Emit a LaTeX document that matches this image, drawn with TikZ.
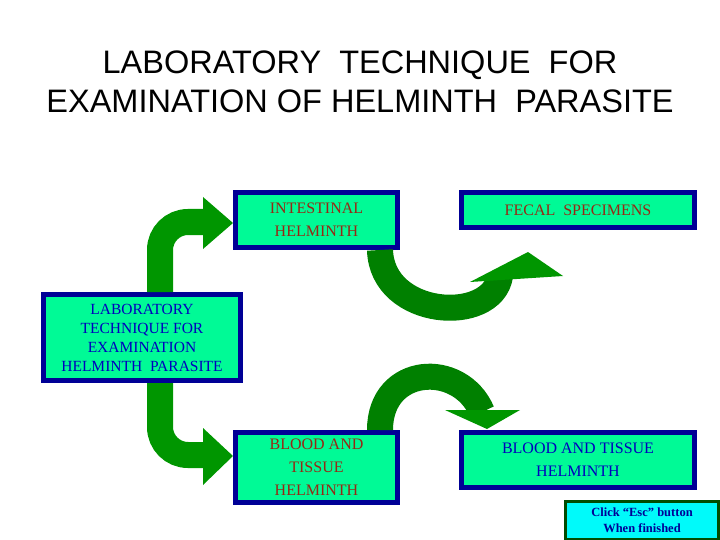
\documentclass[tikz,border=0pt]{standalone}
\usepackage{fontspec}
\setmainfont{Liberation Serif}
\newfontfamily\titlefont{Liberation Sans}
\usetikzlibrary{positioning}
\definecolor{boxfill}{RGB}{0,250,150}
\definecolor{boxline}{RGB}{0,0,150}
\definecolor{arrowgreen}{RGB}{0,150,0}
\definecolor{redtext}{RGB}{150,40,20}
\definecolor{bluetext}{RGB}{0,0,190}
\definecolor{escfill}{RGB}{0,250,250}
\tikzset{
  stage/.style={draw=boxline,line width=5pt,fill=boxfill,inner sep=0pt,align=center,font=\fontsize{16}{23}\selectfont},
  bigarrow/.style={draw=arrowgreen,line width=26pt},
  arrowhead/.style={fill=arrowgreen}
}
\begin{document}
\begin{tikzpicture}[x=1pt,y=-1pt]
    \useasboundingbox (0,0) rectangle (720,540);
    \node[font=\titlefont\fontsize{32.5}{39}\selectfont,align=center] (title) at (360,82) {LABORATORY\ \ TECHNIQUE\ \ FOR\\EXAMINATION OF HELMINTH\ \ PARASITE};

    \node[stage,text=redtext,minimum width=162pt,minimum height=55pt] (intest) at (316.5,220) {INTESTINAL\\HELMINTH};
    \node[stage,text=redtext,minimum width=233pt,minimum height=35pt] (fecal) at (578,210) {FECAL\ \ SPECIMENS};
    \node[stage,text=bluetext,minimum width=197pt,minimum height=86pt,font=\fontsize{15.5}{19}\selectfont] (lab) at (142,337.5) {LABORATORY\\TECHNIQUE FOR\\EXAMINATION\\HELMINTH\ \ PARASITE};
    \node[stage,text=redtext,minimum width=162pt,minimum height=70pt] (blood) at (316.5,467.5) {BLOOD AND\\TISSUE\\HELMINTH};
    \node[stage,text=bluetext,minimum width=233pt,minimum height=55pt] (bthelm) at (578,460) {BLOOD AND TISSUE\\HELMINTH};
    \node[draw=black!70!green,line width=3pt,fill=escfill,text=boxline,inner sep=0pt,minimum width=153pt,minimum height=38pt,align=center,font=\bfseries\fontsize{12.5}{16}\selectfont] (esc) at (642,520) {Click ``Esc'' button\\When finished};

    % curved arrows
    \coordinate (a1) at ([xshift=119pt]lab.north west);
    \draw[bigarrow,rounded corners=28pt] (a1) |- (205,222);
    \fill[arrowhead] (203,197) -- (intest.west |- 0,223) -- (203,249) -- cycle;

    \coordinate (a2) at ([xshift=119pt]lab.south west);
    \draw[bigarrow,rounded corners=28pt] (a2) |- (205,455);
    \fill[arrowhead] (203,428) -- (blood.west |- 0,456) -- (203,485) -- cycle;

    \coordinate (a3) at ([xshift=-20pt]intest.south east);
    \draw[bigarrow,draw=arrowgreen!85!black] (a3) .. controls (382,318) and (492,325) .. (500,276);
    \fill[arrowhead] (470,282) -- (528,252) -- (563,276) -- cycle;

    \coordinate (a4) at ([xshift=-20pt]blood.north east);
    \draw[bigarrow,draw=arrowgreen!85!black] (a4) .. controls (380,365) and (460,360) .. (482,412);
    \fill[arrowhead] (445,410) -- (487,429) -- (520,410) -- cycle;
\end{tikzpicture}
\end{document}
